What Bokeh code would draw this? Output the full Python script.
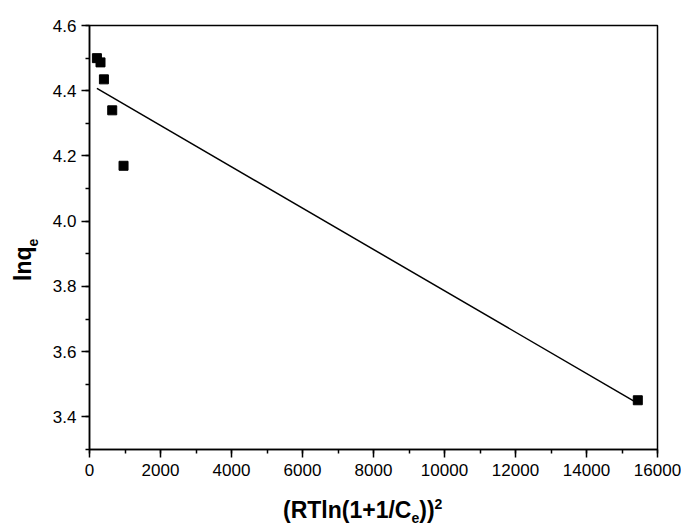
import numpy as np
from bokeh.plotting import figure
from bokeh.models import SingleIntervalTicker, Range1d, Div
from bokeh.layouts import column, row
from bokeh.embed import file_html
from bokeh.resources import INLINE

# data
x_vals = [209, 310, 406, 640, 959, 15445]
y_vals = [4.500, 4.487, 4.435, 4.340, 4.170, 3.451]

x_ticks = [0, 2000, 4000, 6000, 8000, 10000, 12000, 14000, 16000]
y_ticks = [3.4, 3.6, 3.8, 4.0, 4.2, 4.4, 4.6]

x_title_main = "(RTln(1+1/C"
x_title_sub = "e"
x_title_tail = "))"
x_title_sup = "2"
y_title_main = "lnq"
y_title_sub = "e"

FONT = "Liberation Sans"

YW = 40      # width of the y-title column
FH = 485     # figure height

p = figure(width=681 - YW, height=FH, output_backend="svg", toolbar_location=None,
           x_range=Range1d(0, 16000), y_range=Range1d(3.3, 4.6001),
           min_border_left=89 - YW, min_border_right=24, min_border_top=25,
           min_border_bottom=FH - 449)
p.grid.visible = False
p.outline_line_color = "black"
p.outline_line_width = 1.5
p.background_fill_color = "white"
p.border_fill_color = "white"

# linear fit
xa = np.array(x_vals, dtype=float)
ya = np.array(y_vals, dtype=float)
slope, intercept = np.polyfit(xa, ya, 1)
fx = np.array([xa.min(), xa.max()])
p.line(fx, slope * fx + intercept, line_color="black", line_width=1.5)
p.scatter(x_vals, y_vals, marker="square", size=9, fill_color="black",
          line_color="black")

for ax in (p.xaxis[0], p.yaxis[0]):
    ax.axis_line_width = 1.5
    ax.major_tick_line_width = 1.5
    ax.minor_tick_line_width = 1.5
    ax.major_tick_out = 8
    ax.major_tick_in = 0
    ax.minor_tick_out = 4
    ax.minor_tick_in = 0
    ax.major_label_text_font = FONT
    ax.major_label_text_font_size = "17px"
    ax.major_label_text_color = "black"
    ax.axis_label = None

p.xaxis[0].ticker = SingleIntervalTicker(interval=2000, num_minor_ticks=2)
p.yaxis[0].ticker = SingleIntervalTicker(interval=0.2, num_minor_ticks=2)
p.xaxis[0].major_label_standoff = 6
p.yaxis[0].major_label_standoff = 5
p.yaxis[0].major_label_overrides = {t: f"{t:.1f}" for t in y_ticks}

base = (f"font-family:'{FONT}'; font-weight:bold; font-size:23px; "
        "line-height:23px; color:black; white-space:nowrap; width:max-content;")

x_html = (f'<div style="position:relative; left:283px; top:14px; {base}">'
          f'{x_title_main}'
          f'<span style="position:relative; top:5px; font-size:14px;">{x_title_sub}</span>'
          f'{x_title_tail}'
          f'<span style="position:relative; top:-9px; font-size:14px;">{x_title_sup}</span>'
          '</div>')
y_html = (f'<div style="position:relative; left:12px; top:281px; '
          f'transform:rotate(-90deg); transform-origin:0 0; {base}">'
          f'{y_title_main}'
          f'<span style="position:relative; top:7px; font-size:14px;">{y_title_sub}</span>'
          '</div>')

xdiv = Div(text=x_html, width=681, height=527 - FH, margin=(0, 0, 0, 0))
ydiv = Div(text=y_html, width=YW, height=FH, margin=(0, 0, 0, 0))

layout = column(row(ydiv, p, spacing=0), xdiv, spacing=0)

open("out.html", "w").write(file_html(layout, INLINE))
